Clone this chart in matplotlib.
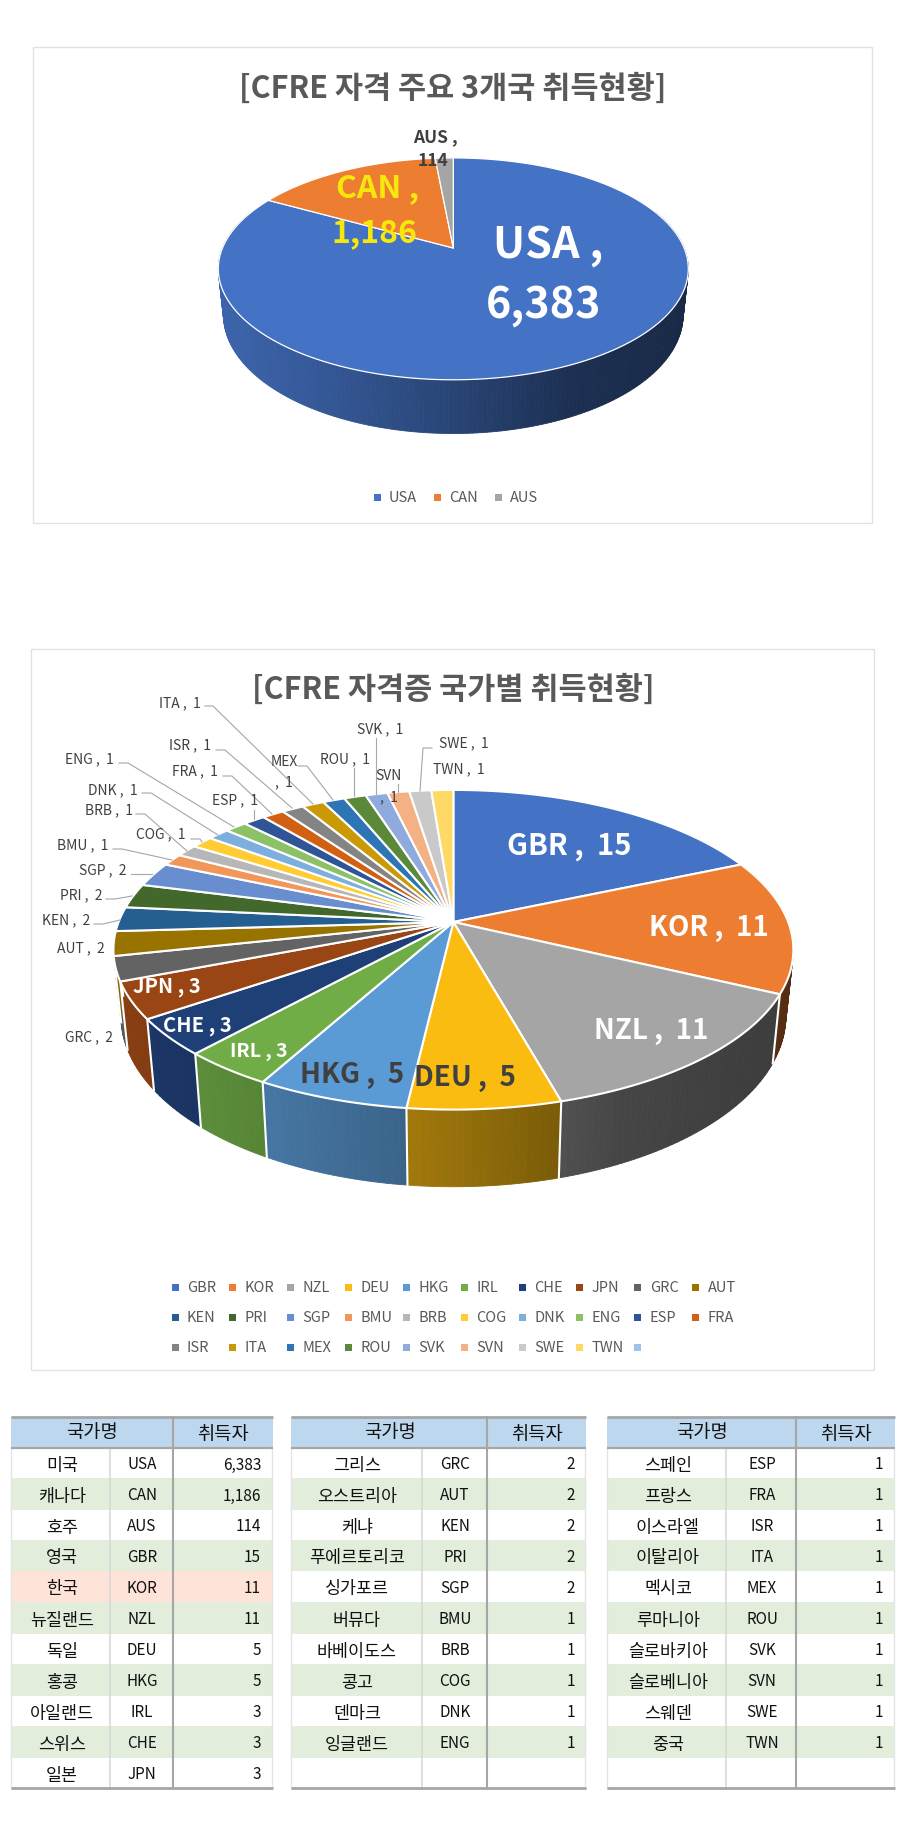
import numpy as np
import matplotlib
matplotlib.use("Agg")
import matplotlib.pyplot as plt
from matplotlib.patches import Rectangle

plt.rcParams['font.family'] = ['Noto Sans CJK KR', 'DejaVu Sans']

# --- data ---
top3_codes = ['USA', 'CAN', 'AUS']
top3_values = [6383, 1186, 114]
top3_colors = ['#4472C4', '#ED7D31', '#A5A5A5']

names = ['미국', '캐나다', '호주', '영국', '한국', '뉴질랜드', '독일', '홍콩', '아일랜드', '스위스', '일본',
         '그리스', '오스트리아', '케냐', '푸에르토리코', '싱가포르', '버뮤다', '바베이도스', '콩고', '덴마크', '잉글랜드',
         '스페인', '프랑스', '이스라엘', '이탈리아', '멕시코', '루마니아', '슬로바키아', '슬로베니아', '스웨덴', '중국']
codes = ['USA', 'CAN', 'AUS', 'GBR', 'KOR', 'NZL', 'DEU', 'HKG', 'IRL', 'CHE', 'JPN',
         'GRC', 'AUT', 'KEN', 'PRI', 'SGP', 'BMU', 'BRB', 'COG', 'DNK', 'ENG',
         'ESP', 'FRA', 'ISR', 'ITA', 'MEX', 'ROU', 'SVK', 'SVN', 'SWE', 'TWN']
counts = [6383, 1186, 114, 15, 11, 11, 5, 5, 3, 3, 3,
          2, 2, 2, 2, 2, 1, 1, 1, 1, 1,
          1, 1, 1, 1, 1, 1, 1, 1, 1, 1]

world_codes = codes[3:]
world_values = counts[3:]
world_colors = ['#4472C4', '#ED7D31', '#A5A5A5', '#FBBC12', '#5B9BD5', '#70AD47', '#1F3F77', '#9A4614',
                '#636363', '#997300', '#255E91', '#43682B', '#698ED0', '#F1975A', '#B7B7B7', '#FFCD33',
                '#7CAFDD', '#8CC168', '#2F5597', '#D26012', '#848484', '#C99A06', '#2E75B6', '#5A8A39',
                '#8FAADC', '#F4B183', '#C9C9C9', '#FFD966', '#9DC3E6']

# --- label layout, px ---
big_labels = {
    'GBR': (569, 846, 21, 'white', 'GBR ,  15'),
    'KOR': (709, 928, 20, 'white', 'KOR ,  11'),
    'NZL': (651, 1031, 20, 'white', 'NZL ,  11'),
    'DEU': (465, 1078, 20, '#404040', 'DEU ,  5'),
    'HKG': (352, 1075, 20, '#404040', 'HKG ,  5'),
    'IRL': (259, 1052, 14, 'white', 'IRL , 3'),
    'CHE': (197, 1026, 14.5, 'white', 'CHE , 3'),
    'JPN': (167, 987, 14.5, 'white', 'JPN , 3'),
}
small_labels = {
    'GRC': (89, 1037), 'AUT': (81, 948), 'KEN': (66, 920), 'PRI': (81, 895), 'SGP': (103, 870),
    'BMU': (83, 845), 'BRB': (109, 810), 'COG': (161, 834), 'DNK': (113, 790), 'ENG': (89, 759),
    'ESP': (235, 800), 'FRA': (195, 771), 'ISR': (190, 745), 'ITA': (180, 703),
    'ROU': (345, 759), 'SVK': (380, 729), 'SWE': (464, 743), 'TWN': (459, 769),
}
leaders = [
    [(205, 707), (213, 707), (313, 805)], [(216, 751), (225, 751), (292, 809)],
    [(119, 764), (128, 764), (234, 828)], [(223, 777), (232, 777), (272, 815)],
    [(142, 794), (151, 794), (218, 836)], [(254, 811), (254, 820)],
    [(136, 815), (145, 815), (187, 852)], [(191, 840), (200, 840), (202, 843)],
    [(113, 850), (122, 850), (172, 861)], [(131, 875), (152, 875)],
    [(106, 900), (115, 900), (132, 897)], [(94, 925), (103, 925), (120, 921)],
    [(298, 767), (307, 767), (333, 801)], [(354, 769), (354, 797)],
    [(376, 739), (376, 795)], [(398, 785), (398, 793)],
    [(432, 749), (423, 749), (420, 792)],
]


def side_shade(t):
    # darker to the right, like the Excel 3D pie
    return np.interp(t, [0, .25, .5, .75, 1], [.88, .75, .6, .42, .36])


def darken(color, f):
    r, g, b = matplotlib.colors.to_rgb(color)
    return (r * f, g * f, b * f)


def pie3d(ax, values, colors, cx, ay, a, b, k, top_c, side_c, edge_lw):
    # perspective mapping of the unit circle, apex at (cx, ay)
    def project(th):
        u, v = np.sin(th), np.cos(th)
        return cx + a * u / (1 + k * v), ay - b * v / (1 + k * v)

    def lower(x, y):
        return cx + (x - cx) * .978, side_c + (y - top_c) * 1.07

    edges = np.cumsum([0] + list(values)) / sum(values) * 2 * np.pi
    half = a / np.sqrt(1 - k ** 2)

    # sides first, top face goes over them
    for i, col in enumerate(colors[:len(values)]):
        n = max(2, int(np.degrees(edges[i + 1] - edges[i])))
        ths = np.linspace(edges[i], edges[i + 1], n + 1)
        for t0, t1 in zip(ths[:-1], ths[1:]):
            if np.cos((t0 + t1) / 2) > .35:
                continue
            x0, y0 = project(t0)
            x1, y1 = project(t1)
            x2, y2 = lower(x1, y1)
            x3, y3 = lower(x0, y0)
            c = darken(col, side_shade(((x0 + x1) / 2 - cx + half) / (2 * half)))
            ax.fill([x0, x1, x2, x3], [y0, y1, y2, y3], facecolor=c, edgecolor=c, lw=.6, zorder=2)
    for th in edges[:-1]:
        if np.cos(th) < 0:
            x0, y0 = project(th)
            x1, y1 = lower(x0, y0)
            ax.plot([x0, x1], [y0, y1], color='white', lw=edge_lw, zorder=3)

    for i, col in enumerate(colors[:len(values)]):
        ths = np.linspace(edges[i], edges[i + 1], max(3, int(np.degrees(edges[i + 1] - edges[i]))))
        xs, ys = project(ths)
        ax.fill(np.r_[cx, xs], np.r_[ay, ys], facecolor=col, edgecolor='white', lw=edge_lw,
                joinstyle='round', zorder=4)


def draw_table(ax, x0, x_name, x_thick, x1, x_name_c, x_code_c, x_val, x_head1, x_head2, start):
    row_y = [1449, 1479, 1511, 1541, 1572, 1603, 1635, 1665, 1697, 1727, 1759, 1789]
    ax.add_patch(Rectangle((x0, 1418), x1 - x0, 31, facecolor='#BDD7EE', edgecolor='none', zorder=1))
    for r in range(11):
        idx = start + r
        code = codes[idx] if idx < len(codes) and (start == 0 or r < 10) else ''
        if r % 2 == 1:
            ax.add_patch(Rectangle((x0 + 1, row_y[r]), x1 - x0 - 2, row_y[r + 1] - row_y[r],
                                   facecolor='#E2EDDB', edgecolor='none', zorder=1))
        if code == 'KOR':
            ax.add_patch(Rectangle((x0 + 1, row_y[r]), x1 - x0 - 2, row_y[r + 1] - row_y[r],
                                   facecolor='#FEE4D8', edgecolor='none', zorder=1))
        if code:
            ym = (row_y[r] + row_y[r + 1]) / 2 + 1
            ax.text(x_name_c, ym + 1, names[idx], ha='center', va='center', fontsize=12.5, color='#111111', zorder=5)
            ax.text(x_code_c, ym, code, ha='center', va='center', fontsize=11, color='#111111', zorder=5)
            ax.text(x_val, ym, f'{counts[idx]:,}', ha='right', va='center', fontsize=11, color='#111111', zorder=5)
    ax.text(x_head1, 1433, '국가명', ha='center', va='center', fontsize=13.5, color='#111111', zorder=5)
    ax.text(x_head2, 1435, '취득자', ha='center', va='center', fontsize=13.5, color='#111111', zorder=5)
    ax.plot([x_name, x_name], [1449, 1789], color='#D9D9D9', lw=1.2, zorder=2)
    ax.plot([x_thick, x_thick], [1418, 1789], color='#A6A6A6', lw=1.5, zorder=3)
    for y, w in ((1418, 2), (1449, 1.6), (1789, 2)):
        ax.plot([x0, x1], [y, y], color='#A6A6A6', lw=w, solid_capstyle='butt', zorder=3)
    ax.plot([x0, x0], [1449, 1789], color='#E4E4E4', lw=1, zorder=2)
    ax.plot([x1 - 1, x1 - 1], [1449, 1789], color='#E4E4E4', lw=1, zorder=2)


fig = plt.figure(figsize=(9.11, 18.24), dpi=100)
ax = fig.add_axes([0, 0, 1, 1])
ax.set_xlim(0, 911)
ax.set_ylim(1824, 0)
ax.axis('off')

# chart 1
ax.add_patch(Rectangle((33, 48), 839, 476, facecolor='white', edgecolor='#E2E2E2', lw=1))
ax.text(453, 88.5, '[CFRE 자격 주요 3개국 취득현황]', ha='center', va='center', fontsize=22,
        fontweight='bold', color='#595959')
pie3d(ax, top3_values, top3_colors, 453.3, 249, 230.8, 107, .188, 270, 316, .9)
ax.text(548, 245, f'{top3_codes[0]} ,', ha='center', va='center', fontsize=31, fontweight='bold', color='white', zorder=6)
ax.text(544, 305, f'{top3_values[0]:,}', ha='center', va='center', fontsize=31, fontweight='bold', color='white', zorder=6)
ax.text(377, 188, f'{top3_codes[1]} ,', ha='center', va='center', fontsize=23, fontweight='bold', color='#F7E80C', zorder=6)
ax.text(374, 233, f'{top3_values[1]:,}', ha='center', va='center', fontsize=23, fontweight='bold', color='#F7E80C', zorder=6)
ax.text(435, 137, f'{top3_codes[2]} ,', ha='center', va='center', fontsize=12.5, fontweight='bold', color='#404040', zorder=6)
ax.text(433, 161, f'{top3_values[2]}', ha='center', va='center', fontsize=12.5, fontweight='bold', color='#404040', zorder=6)
for c, col, xm in zip(top3_codes, top3_colors, [377, 437, 498]):
    ax.add_patch(Rectangle((xm - 3.5, 494.5), 7, 7, facecolor=col, edgecolor='none'))
    ax.text(xm + 12, 498, c, ha='left', va='center', fontsize=10.5, color='#595959')

# chart 2
ax.add_patch(Rectangle((31, 650), 843, 721, facecolor='white', edgecolor='#E2E2E2', lw=1))
ax.text(453.5, 690, '[CFRE 자격증 국가별 취득현황]', ha='center', va='center', fontsize=22,
        fontweight='bold', color='#595959')
pie3d(ax, world_values, world_colors, 453.4, 923, 334.8, 155, .1737, 951, 1017, 1.5)

for c, v in zip(world_codes, world_values):
    if c in big_labels:
        x, y, fs, col, txt = big_labels[c]
        ax.text(x, y, txt, ha='center', va='center', fontsize=fs, fontweight='bold', color=col, zorder=6)
    elif c in small_labels:
        x, y = small_labels[c]
        ax.text(x, y, f'{c} ,  {v}', ha='center', va='center', fontsize=10, color='#404040', zorder=6)
# these two wrap onto two lines in the original
ax.text(284, 762, 'MEX', ha='center', va='center', fontsize=10, color='#404040', zorder=6)
ax.text(284, 782, ',  1', ha='center', va='center', fontsize=10, color='#404040', zorder=6)
ax.text(389, 776, 'SVN', ha='center', va='center', fontsize=10, color='#404040', zorder=6)
ax.text(389, 797, ',  1', ha='center', va='center', fontsize=10, color='#404040', zorder=6)
for pts in leaders:
    ax.plot(*zip(*pts), color='#A6A6A6', lw=.8, zorder=5)

# legend, 10 entries per row, last colour has no name
for i, col in enumerate(world_colors):
    xm = 175 + 57.85 * (i % 10)
    ym = 1288 + 30 * (i // 10)
    ax.add_patch(Rectangle((xm - 3.5, ym - 3.5), 7, 7, facecolor=col, edgecolor='none'))
    if i < len(world_codes):
        ax.text(xm + 12, ym, world_codes[i], ha='left', va='center', fontsize=10.5, color='#595959')

# tables
draw_table(ax, 11, 110, 173, 273, 62, 142, 261, 92, 223, 0)
draw_table(ax, 291, 422, 487, 586, 357, 455, 575, 390, 537, 11)
draw_table(ax, 607, 726, 796, 895, 668, 762, 883, 702, 846, 21)

fig.savefig('out.png', dpi=100, facecolor='white')
